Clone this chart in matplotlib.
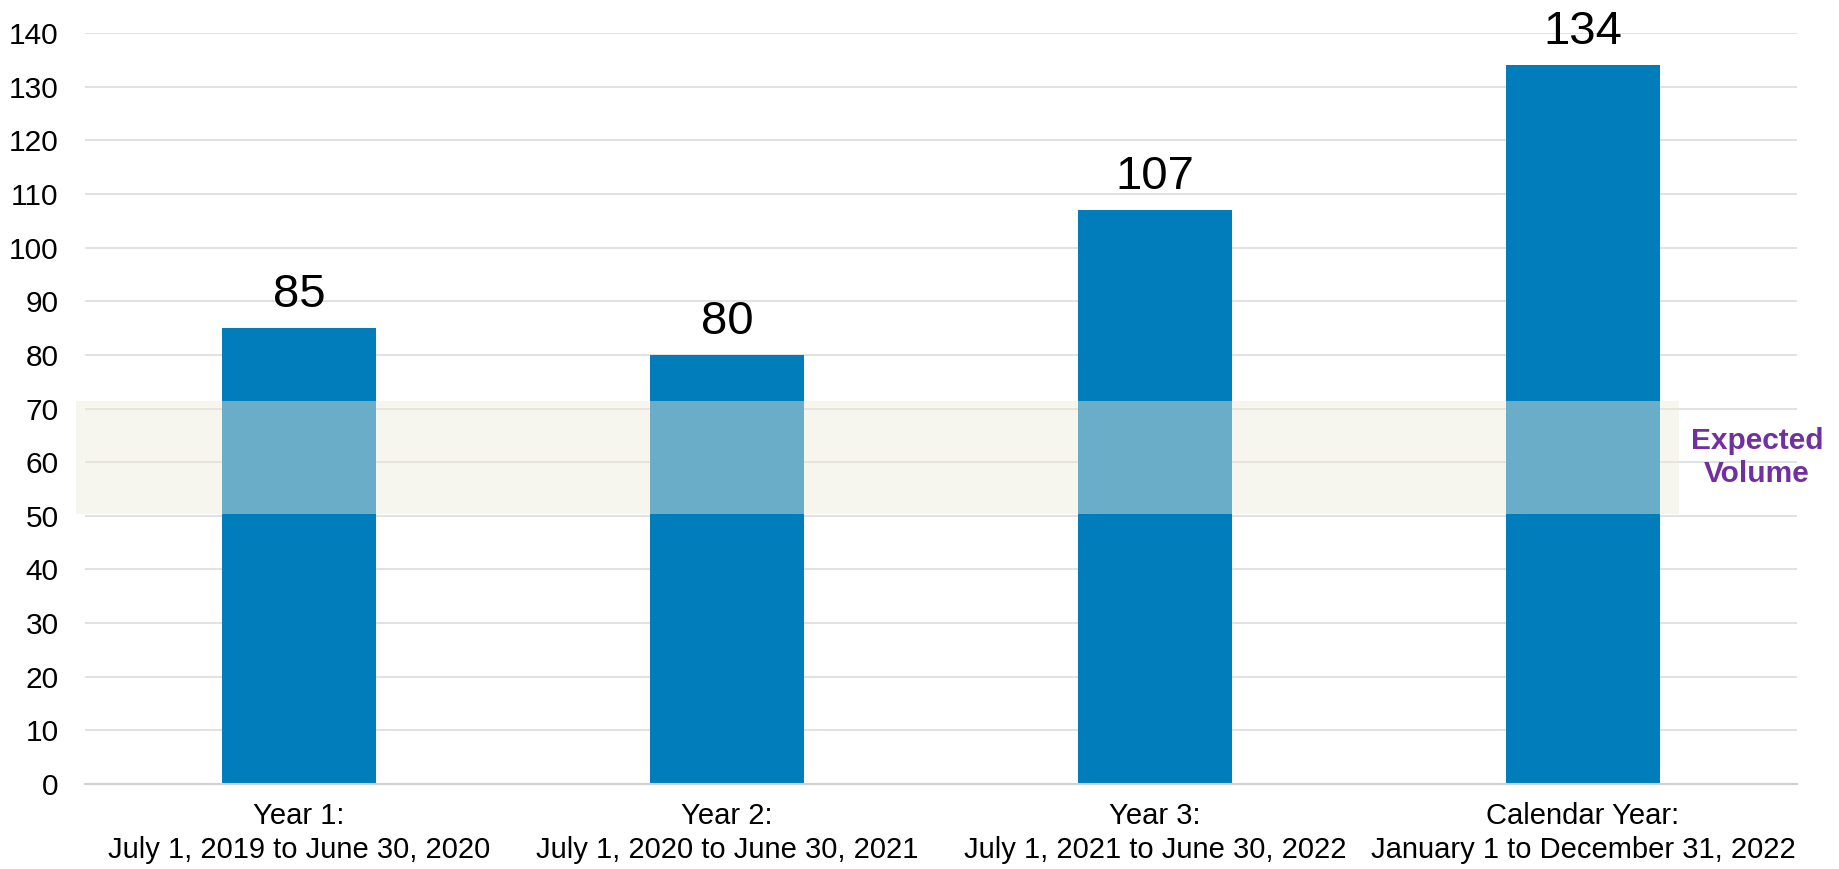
import matplotlib
matplotlib.use("Agg")
import matplotlib.pyplot as plt

# data
periods = ["Year 1:\nJuly 1, 2019 to June 30, 2020",
           "Year 2:\nJuly 1, 2020 to June 30, 2021",
           "Year 3:\nJuly 1, 2021 to June 30, 2022",
           "Calendar Year:\nJanuary 1 to December 31, 2022"]
volumes = [85, 80, 107, 134]
expected_low = 50.4
expected_high = 71.5
yticks = list(range(0, 141, 10))

plt.rcParams['font.family'] = ['Liberation Sans', 'DejaVu Sans']

fig = plt.figure(figsize=(18.39, 8.69), dpi=100)
ax = fig.add_axes([0.0462, 0.0978, 0.931, 0.864])

x = list(range(len(periods)))
bars = ax.bar(x, volumes, width=0.36, color='#007DBA', zorder=2)

# expected volume band, drawn over the bars
ax.axhspan(expected_low, expected_high, xmin=-0.005, xmax=0.931,
           color='#EDE9DA', alpha=0.45, lw=0, zorder=3, clip_on=False)
ax.text(3.406, (expected_low + expected_high) / 2, "Expected\nVolume",
        ha='center', va='center', fontsize=21.5, fontweight='bold',
        color='#7030A0', linespacing=1.22, zorder=4)

for xi, v in zip(x, volumes):
    ax.annotate(str(v), (xi, v), xytext=(0, 8), textcoords='offset points',
                ha='center', va='bottom', fontsize=34, color='black', zorder=5)

ax.set_xlim(-0.5, 3.5)
ax.set_ylim(0, 140)
ax.set_yticks(yticks)
ax.set_xticks(x)
ax.set_xticklabels(periods, fontsize=21, linespacing=1.28)
ax.tick_params(axis='y', length=0, pad=19, labelsize=21.5)
ax.tick_params(axis='x', length=0, pad=13)

ax.grid(axis='y', color='#D9D9D9', lw=1.1, zorder=0)
ax.set_axisbelow(True)
for s in ['top', 'right', 'left']:
    ax.spines[s].set_visible(False)
ax.spines['bottom'].set_color('#D0D0D0')
ax.spines['bottom'].set_linewidth(1.5)

fig.savefig("out.png", dpi=100)
